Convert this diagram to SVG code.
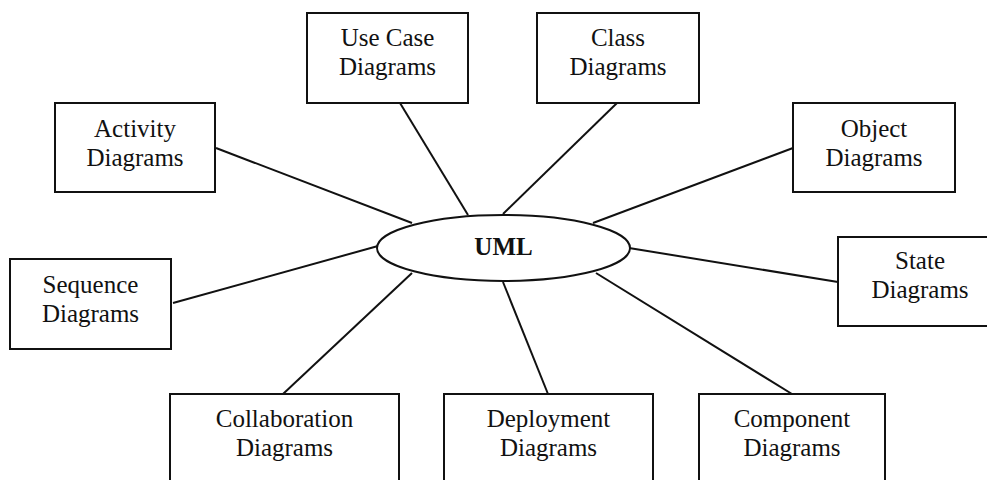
<svg xmlns="http://www.w3.org/2000/svg" width="987" height="480" viewBox="0 0 987 480">
<style>
.box{fill:#fff;stroke:#111;stroke-width:2}
.lbl{font-family:"Liberation Serif","Times New Roman",serif;font-size:25px;fill:#111;text-anchor:middle}
.uml{font-family:"Liberation Serif","Times New Roman",serif;font-size:25px;font-weight:bold;fill:#111;text-anchor:middle}
.conn line{stroke:#111;stroke-width:2}
</style>
<rect width="987" height="480" fill="#fff"/>
<g id="connectors" class="conn">
<line x1="216" y1="148" x2="412" y2="223"/>
<line x1="400" y1="103" x2="468" y2="215"/>
<line x1="617" y1="103" x2="503" y2="214"/>
<line x1="793" y1="148" x2="593" y2="223"/>
<line x1="838" y1="282" x2="629" y2="248"/>
<line x1="792" y1="394" x2="596" y2="273"/>
<line x1="548" y1="394" x2="503" y2="282"/>
<line x1="283" y1="394" x2="412" y2="273"/>
<line x1="173" y1="303" x2="378" y2="246"/>
</g>
<g id="uml">
<ellipse cx="503.5" cy="248" rx="126.5" ry="33" fill="#fff" stroke="#111" stroke-width="2"/>
<text class="uml" x="503.5" y="255">UML</text>
</g>
<g id="usecase">
<rect class="box" x="307" y="13" width="161" height="90"/>
<text class="lbl" x="387.5" y="46">Use Case</text>
<text class="lbl" x="387.5" y="75">Diagrams</text>
</g>
<g id="class">
<rect class="box" x="537" y="13" width="162" height="90"/>
<text class="lbl" x="618" y="46">Class</text>
<text class="lbl" x="618" y="75">Diagrams</text>
</g>
<g id="activity">
<rect class="box" x="55" y="103" width="160" height="89"/>
<text class="lbl" x="135" y="137">Activity</text>
<text class="lbl" x="135" y="166">Diagrams</text>
</g>
<g id="object">
<rect class="box" x="793" y="103" width="162" height="89"/>
<text class="lbl" x="874" y="137">Object</text>
<text class="lbl" x="874" y="166">Diagrams</text>
</g>
<g id="sequence">
<rect class="box" x="10" y="259" width="161" height="90"/>
<text class="lbl" x="90.5" y="293">Sequence</text>
<text class="lbl" x="90.5" y="322">Diagrams</text>
</g>
<g id="state">
<rect class="box" x="838" y="237" width="164" height="89"/>
<text class="lbl" x="920" y="269">State</text>
<text class="lbl" x="920" y="298">Diagrams</text>
</g>
<g id="collaboration">
<rect class="box" x="170" y="394" width="229" height="100"/>
<text class="lbl" x="284.5" y="427">Collaboration</text>
<text class="lbl" x="284.5" y="456">Diagrams</text>
</g>
<g id="deployment">
<rect class="box" x="444" y="394" width="209" height="100"/>
<text class="lbl" x="548.5" y="427">Deployment</text>
<text class="lbl" x="548.5" y="456">Diagrams</text>
</g>
<g id="component">
<rect class="box" x="699" y="394" width="186" height="100"/>
<text class="lbl" x="792" y="427">Component</text>
<text class="lbl" x="792" y="456">Diagrams</text>
</g>
</svg>
